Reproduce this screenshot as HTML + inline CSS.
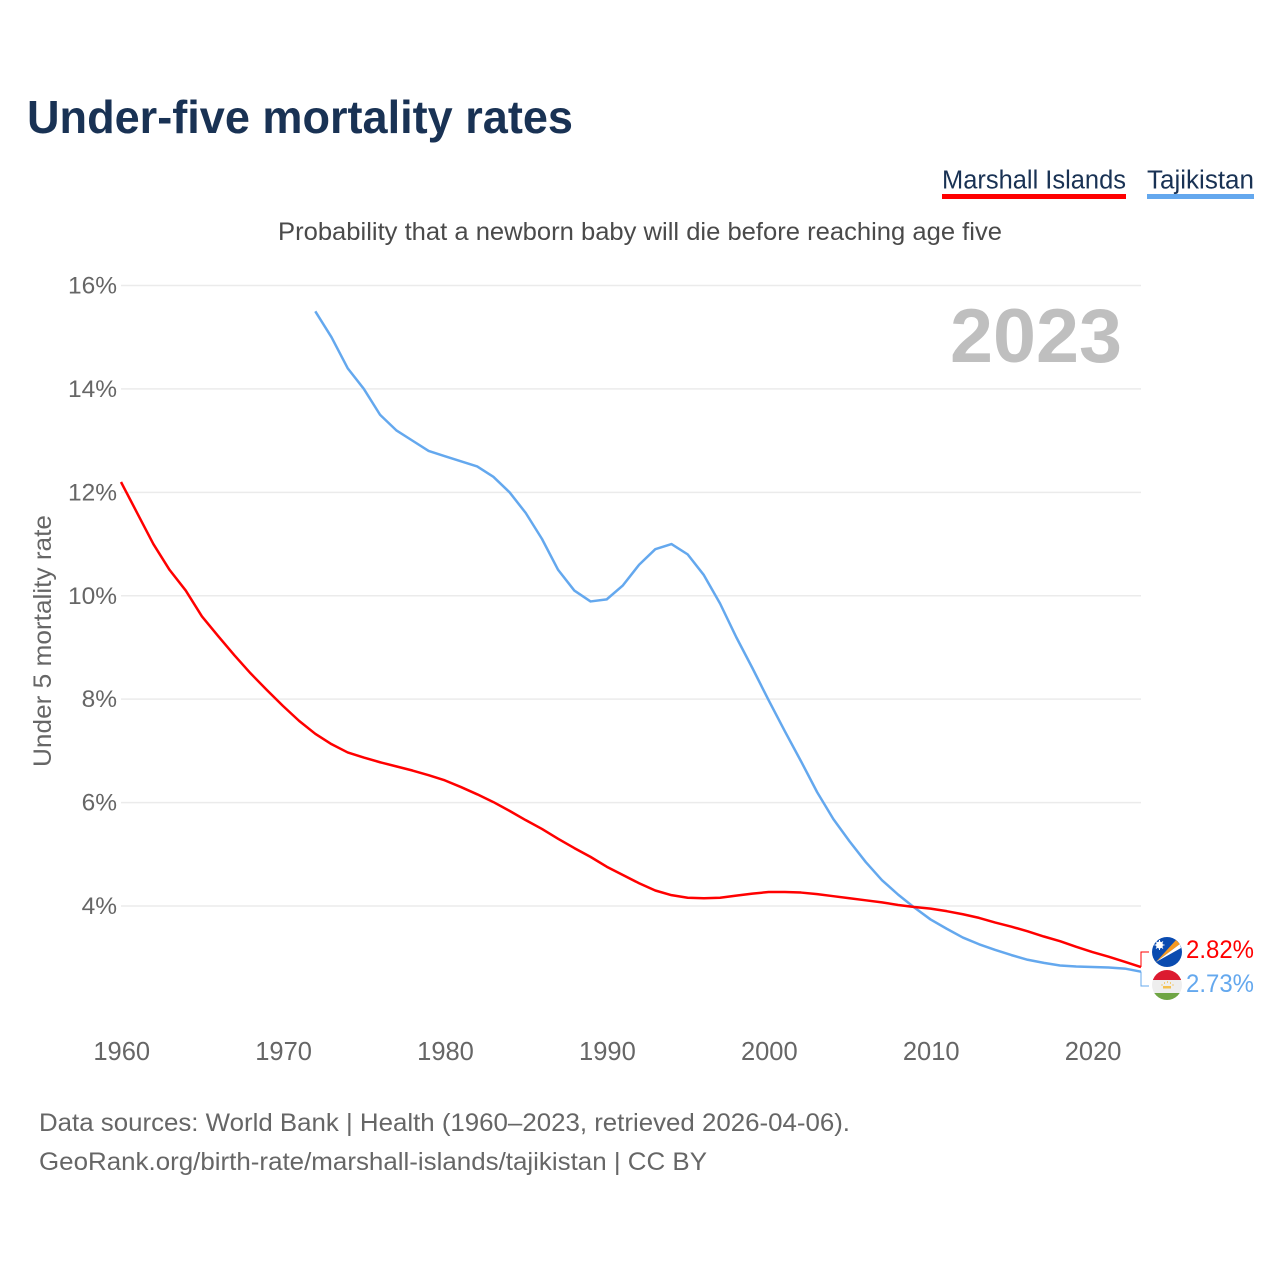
<!DOCTYPE html>
<html>
<head>
<meta charset="utf-8">
<title>Under-five mortality rates</title>
<style>
html,body{margin:0;padding:0;background:#fff;}
svg{display:block;font-family:"Liberation Sans",sans-serif;}
</style>
</head>
<body>
<svg id="chart" width="1280" height="1280" viewBox="0 0 1280 1280" xmlns="http://www.w3.org/2000/svg">
  <rect x="0" y="0" width="1280" height="1280" fill="#fff"/>
  <text x="27" y="133" font-size="46" font-weight="700" fill="#193254" textLength="546" lengthAdjust="spacingAndGlyphs">Under-five mortality rates</text>

  <g>
    <text x="942" y="188.5" font-size="25.5" fill="#193254" textLength="184" lengthAdjust="spacingAndGlyphs">Marshall Islands</text>
    <rect x="942" y="194" width="184" height="5" fill="#ff0000"/>
  </g>
  <g>
    <text x="1147" y="188.5" font-size="25.5" fill="#193254" textLength="107" lengthAdjust="spacingAndGlyphs">Tajikistan</text>
    <rect x="1147" y="194" width="107" height="5" fill="#64a8ee"/>
  </g>

  <text x="278" y="240" font-size="25" fill="#4a4a4a" textLength="724" lengthAdjust="spacingAndGlyphs">Probability that a newborn baby will die before reaching age five</text>

  <g id="grid"></g>
  <g id="y-axis"></g>
  <g id="x-axis"></g>

  <text x="950" y="362" font-size="76" font-weight="700" fill="#bfbfbf" textLength="172" lengthAdjust="spacingAndGlyphs">2023</text>

  <text transform="translate(51,767) rotate(-90)" x="0" y="0" font-size="25" fill="#666" textLength="252" lengthAdjust="spacingAndGlyphs">Under 5 mortality rate</text>

  <g id="series"></g>

  <g>
    <clipPath id="clip-mh"><circle cx="1167" cy="952" r="15"/></clipPath>
    <g clip-path="url(#clip-mh)">
      <rect x="1152" y="937" width="30" height="30" fill="#0a4bb0"/>
      <polygon points="1156,962 1176,940 1180,944" fill="#f59a23"/>
      <polygon points="1156,962 1180,944 1181,948" fill="#ffffff"/>
      <circle cx="1159.5" cy="945" r="3.5" fill="#fff"/>
      <path d="M1159.5 940v10M1154.5 945h10M1156 941.5l7 7M1163 941.5l-7 7" stroke="#fff" stroke-width="1"/>
    </g>
  </g>
  <g>
    <clipPath id="clip-tj"><circle cx="1167" cy="985" r="15"/></clipPath>
    <g clip-path="url(#clip-tj)">
      <rect x="1152" y="970" width="30" height="10" fill="#dc1a30"/>
      <rect x="1152" y="980" width="30" height="13" fill="#eeeeee"/>
      <rect x="1152" y="993" width="30" height="7" fill="#6fa544"/>
      <rect x="1163" y="986" width="8" height="2.5" fill="#f4c04e"/>
      <path d="M1161.5 985h1M1164 983h1M1167 982h1M1170 983h1M1172.5 985h1" stroke="#f4c04e" stroke-width="1.5"/>
    </g>
  </g>

  <text x="1186" y="958" font-size="25" fill="#ff0000" textLength="68" lengthAdjust="spacingAndGlyphs">2.82%</text>
  <text x="1186" y="992" font-size="25" fill="#64a8ee" textLength="68" lengthAdjust="spacingAndGlyphs">2.73%</text>

  <text x="39" y="1131" font-size="25" fill="#666" textLength="811" lengthAdjust="spacingAndGlyphs">Data sources: World Bank | Health (1960–2023, retrieved 2026-04-06).</text>
  <text x="39" y="1170" font-size="25" fill="#666" textLength="668" lengthAdjust="spacingAndGlyphs">GeoRank.org/birth-rate/marshall-islands/tajikistan | CC BY</text>
</svg>
<script>
const yTicks = [4, 6, 8, 10, 12, 14, 16];
const yTickLabels = ['4%', '6%', '8%', '10%', '12%', '14%', '16%'];
const xTicks = [1960, 1970, 1980, 1990, 2000, 2010, 2020];
const xTickLabels = ['1960', '1970', '1980', '1990', '2000', '2010', '2020'];
const marshallStartYear = 1960;
const marshallValues = [12.2, 11.6, 11.0, 10.5, 10.1, 9.6, 9.22, 8.85, 8.5, 8.18, 7.87, 7.58, 7.33, 7.13, 6.97, 6.87, 6.78, 6.7, 6.62, 6.53, 6.43, 6.3, 6.16, 6.01, 5.84, 5.66, 5.49, 5.3, 5.12, 4.95, 4.76, 4.6, 4.44, 4.3, 4.21, 4.16, 4.15, 4.16, 4.2, 4.24, 4.27, 4.27, 4.26, 4.23, 4.19, 4.15, 4.11, 4.07, 4.02, 3.98, 3.95, 3.9, 3.84, 3.77, 3.68, 3.6, 3.51, 3.41, 3.32, 3.21, 3.11, 3.02, 2.92, 2.82];
const tajikistanStartYear = 1972;
const tajikistanValues = [15.5, 15.0, 14.4, 14.0, 13.5, 13.2, 13.0, 12.8, 12.7, 12.6, 12.5, 12.3, 12.0, 11.6, 11.1, 10.5, 10.1, 9.89, 9.93, 10.2, 10.6, 10.9, 11.0, 10.8, 10.4, 9.85, 9.2, 8.6, 7.98, 7.38, 6.8, 6.2, 5.68, 5.25, 4.85, 4.5, 4.22, 3.97, 3.74, 3.56, 3.39, 3.26, 3.15, 3.05, 2.96, 2.9, 2.85, 2.83, 2.82, 2.81, 2.79, 2.73];

const NS = 'http://www.w3.org/2000/svg';
function xScale(year) { return 121 + (year - 1960) * (1020 / 63); }
function yScale(value) { return 906 - (value - 4) * (620.5 / 12); }
function make(tag, attrs) {
  const el = document.createElementNS(NS, tag);
  for (const k in attrs) el.setAttribute(k, attrs[k]);
  return el;
}

const gridGroup = document.getElementById('grid');
const yGroup = document.getElementById('y-axis');
yTicks.forEach(function (t, i) {
  const line = make('line', { x1: 121, x2: 1141, y1: yScale(t), y2: yScale(t), stroke: '#ebebeb', 'stroke-width': 1.5 });
  
  
  gridGroup.appendChild(line);
  const label = make('text', { x: 117, y: yScale(t) + 8, 'text-anchor': 'end', 'font-size': 24.5, fill: '#666' });
  
  
  label.textContent = yTickLabels[i];
  yGroup.appendChild(label);
});

const xGroup = document.getElementById('x-axis');
xTicks.forEach(function (t, i) {
  const label = make('text', { x: xScale(t) + 0.7, y: 1060, 'text-anchor': 'middle', 'font-size': 25.5, fill: '#666' });
  
  
  label.textContent = xTickLabels[i];
  xGroup.appendChild(label);
});

function linePath(startYear, values) {
  return values.map(function (v, i) {
    return (i ? 'L' : 'M') + xScale(startYear + i).toFixed(2) + ' ' + yScale(v).toFixed(2);
  }).join(' ');
}

const seriesGroup = document.getElementById('series');

const tajikLine = make('path', { d: linePath(tajikistanStartYear, tajikistanValues), fill: 'none', stroke: '#64a8ee', 'stroke-width': 2.5, 'stroke-linejoin': 'round' });


seriesGroup.appendChild(tajikLine);

const marshallLine = make('path', { d: linePath(marshallStartYear, marshallValues), fill: 'none', stroke: '#ff0000', 'stroke-width': 2.5, 'stroke-linejoin': 'round' });


seriesGroup.appendChild(marshallLine);

const lastMarshall = marshallValues[marshallValues.length - 1];
const lastTajik = tajikistanValues[tajikistanValues.length - 1];

const marshallConnector = make('path', { d: 'M1141 ' + yScale(lastMarshall).toFixed(2) + ' V952 H1149', fill: 'none', stroke: '#ff0000', 'stroke-width': 1 });


seriesGroup.appendChild(marshallConnector);

const tajikConnector = make('path', { d: 'M1141 ' + yScale(lastTajik).toFixed(2) + ' V986 H1149', fill: 'none', stroke: '#64a8ee', 'stroke-width': 1 });


seriesGroup.appendChild(tajikConnector);
</script>
</body>
</html>
